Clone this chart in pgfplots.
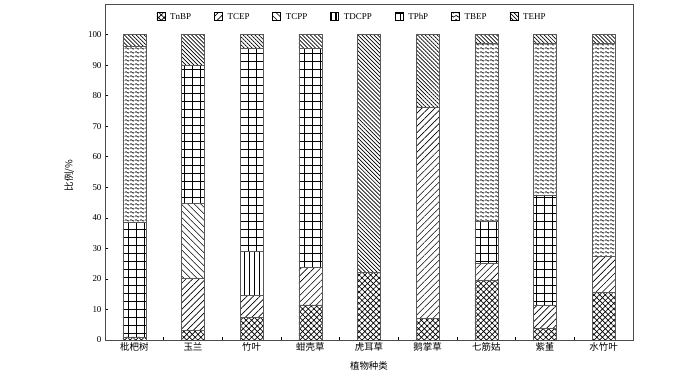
\documentclass[border=0pt]{standalone}
\usepackage{pgfplots}
\pgfplotsset{compat=1.18}
\usepackage{pgfplotstable}
\usepackage{fontspec}
\setmainfont{Liberation Serif}
\newfontfamily\cjk{Noto Sans CJK SC}
\usetikzlibrary{patterns,patterns.meta}

\pgfdeclarepatternformonly{wave}{\pgfqpoint{0pt}{0pt}}{\pgfqpoint{5bp}{4bp}}{\pgfqpoint{5bp}{4bp}}{%
  \pgfsetlinewidth{0.75bp}%
  \pgfpathmoveto{\pgfqpoint{0bp}{2bp}}%
  \pgfpathcurveto{\pgfqpoint{0.8bp}{3.3bp}}{\pgfqpoint{1.7bp}{3.3bp}}{\pgfqpoint{2.5bp}{2bp}}%
  \pgfpathcurveto{\pgfqpoint{3.3bp}{0.7bp}}{\pgfqpoint{4.2bp}{0.7bp}}{\pgfqpoint{5bp}{2bp}}%
  \pgfusepath{stroke}%
}

\pgfplotstableread{
x TnBP TCEP TCPP TDCPP TPhP TBEP TEHP
0 1.0  0    0    0    37.5 57.7 3.8
1 3.2  17.0 24.6 0    45.1 0    10.1
2 7.4  7.1  0    14.5 66.6 0    4.4
3 11.5 12.3 0    0    71.6 0    4.6
4 22.2 0    0    0    0    0    77.8
5 7.1  69.1 0    0    0    0    23.8
6 19.5 5.7  0    0    13.6 58.2 3.0
7 3.8  7.7  0    0    36.0 49.5 3.0
8 15.5 11.8 0    0    0    69.7 3.0
}\datatable

\begin{document}
\begin{tikzpicture}
\useasboundingbox (-105bp,-34bp) rectangle (595bp,340bp);
\begin{axis}[
  at={(0,0)}, anchor=south west,
  scale only axis, width=528bp, height=336bp,
  ybar stacked, bar width=23bp,
  xmin=-0.5, xmax=8.5, ymin=0, ymax=110,
  xtick={0,...,8},
  xticklabels={{\cjk 枇杷树},{\cjk 玉兰},{\cjk 竹叶},{\cjk 蚶壳草},{\cjk 虎耳草},{\cjk 鹅掌草},{\cjk 七筋姑},{\cjk 紫堇},{\cjk 水竹叶}},
  major x tick style={draw=none},
  minor xtick={0.5,1.5,...,7.5},
  ytick={0,10,...,100},
  tick pos=left,
  tick align=inside,
  major tick length=3bp, minor tick length=3bp,
  every tick/.style={black, line width=0.6bp},
  axis line style={draw=gray!60!black, line width=0.8bp},
  tick label style={font=\fontsize{9}{10}\selectfont},
  /pgf/number format/assume math mode=true,
  xticklabel style={font=\cjk\fontsize{9.5}{10}\selectfont, yshift=1bp},
  xlabel={\cjk 植物种类},
  xlabel style={font=\cjk\fontsize{9.5}{10}\selectfont, at={(axis description cs:0.5,0)}, anchor=north, yshift=-18bp},
  ylabel={\cjk 比例/\%},
  ylabel style={font=\cjk\fontsize{9.5}{10}\selectfont, at={(axis description cs:-0.052,0.49)}},
  legend style={at={(0.468,0.985)}, anchor=north, draw=none, fill=none,
    legend columns=-1, font=\fontsize{9}{10}\selectfont,
    /tikz/every odd column/.append style={column sep=3bp},
    /tikz/every even column/.append style={column sep=21bp}},
  legend image code/.code={\draw[#1,draw=black,line width=0.5bp] (0bp,-3.5bp) rectangle (8bp,4.5bp);},
  every axis plot/.append style={draw=gray!70!black, line width=0.6bp},
]
\addplot[pattern={Hatch[angle=45,distance=4bp,line width=0.7bp]}] table[x=x,y=TnBP]{\datatable};
\addlegendentry{TnBP}
\addplot[pattern={Lines[angle=45,distance=4.6bp,line width=0.6bp]}] table[x=x,y=TCEP]{\datatable};
\addlegendentry{TCEP}
\addplot[pattern={Lines[angle=-45,distance=4.6bp,line width=0.6bp]}] table[x=x,y=TCPP]{\datatable};
\addlegendentry{TCPP}
\addplot[pattern={Lines[angle=90,distance=4.8bp,line width=1.3bp]}] table[x=x,y=TDCPP]{\datatable};
\addlegendentry{TDCPP}
\addplot[pattern={Hatch[angle=0,distance=8bp,line width=1bp]}] table[x=x,y=TPhP]{\datatable};
\addlegendentry{TPhP}
\addplot[pattern=wave] table[x=x,y=TBEP]{\datatable};
\addlegendentry{TBEP}
\addplot[pattern={Lines[angle=-45,distance=2.8bp,line width=0.7bp]}] table[x=x,y=TEHP]{\datatable};
\addlegendentry{TEHP}
\end{axis}
\end{tikzpicture}
\end{document}
